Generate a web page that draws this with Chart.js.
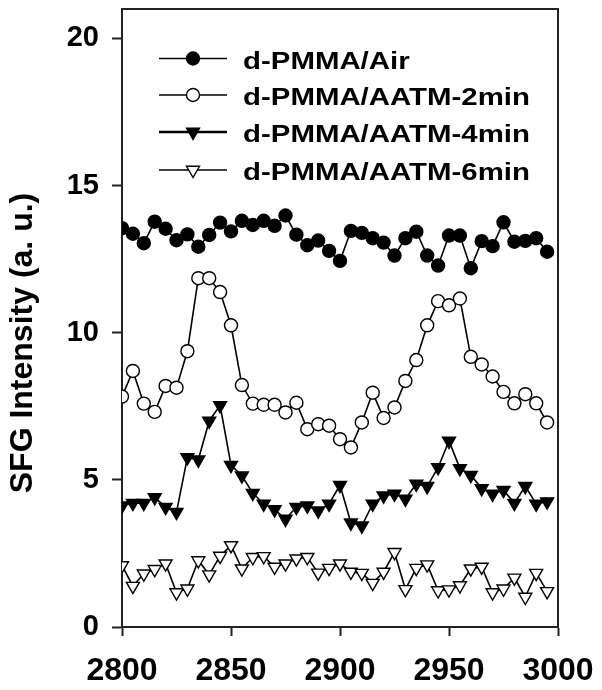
<!DOCTYPE html>
<html>
<head>
<meta charset="utf-8">
<script src="https://cdn.jsdelivr.net/npm/chart.js@4.4.1/dist/chart.umd.min.js"></script>
<style>
  html, body { margin: 0; padding: 0; background: #fff; }
  #wrap { width: 602px; height: 690px; }
</style>
</head>
<body>
<div id="wrap"><canvas id="sfgChart" width="602" height="690"></canvas></div>
<script>
// wavenumber (cm-1)
const wavenumbers = [2800, 2805, 2810, 2815, 2820, 2825, 2830, 2835, 2840, 2845,
                     2850, 2855, 2860, 2865, 2870, 2875, 2880, 2885, 2890, 2895,
                     2900, 2905, 2910, 2915, 2920, 2925, 2930, 2935, 2940, 2945,
                     2950, 2955, 2960, 2965, 2970, 2975, 2980, 2985, 2990, 2995];

// SFG intensity
const pmmaAir = [13.55, 13.36, 13.04, 13.77, 13.53, 13.14, 13.34, 12.92, 13.32, 13.74,
                 13.44, 13.80, 13.66, 13.80, 13.63, 13.98, 13.33, 12.97, 13.13, 12.78,
                 12.44, 13.46, 13.39, 13.21, 13.06, 12.62, 13.21, 13.43, 12.62, 12.28,
                 13.30, 13.30, 12.19, 13.11, 12.94, 13.75, 13.09, 13.12, 13.21, 12.75];
const aatm2min = [7.83, 8.70, 7.59, 7.31, 8.19, 8.13, 9.37, 11.85, 11.85, 11.38,
                  10.25, 8.22, 7.59, 7.55, 7.55, 7.29, 7.62, 6.72, 6.89, 6.84,
                  6.38, 6.10, 6.95, 7.96, 7.10, 7.46, 8.36, 9.07, 10.25, 11.07,
                  10.93, 11.16, 9.18, 8.92, 8.51, 7.99, 7.60, 7.91, 7.60, 6.95];
const aatm4min = [4.12, 4.21, 4.21, 4.40, 4.07, 3.90, 5.76, 5.68, 7.00, 7.53,
                  5.50, 5.14, 4.55, 4.18, 3.99, 3.67, 4.07, 4.12, 3.95, 4.18,
                  4.82, 3.54, 3.44, 4.18, 4.46, 4.52, 4.35, 4.86, 4.78, 5.42,
                  6.32, 5.39, 5.16, 4.71, 4.52, 4.65, 4.21, 4.78, 4.18, 4.26];
const aatm6min = [2.09, 1.39, 1.81, 1.96, 2.15, 1.17, 1.30, 2.26, 1.78, 2.41,
                  2.77, 1.98, 2.37, 2.40, 2.04, 2.15, 2.32, 2.37, 1.84, 2.00,
                  2.15, 1.87, 1.83, 1.49, 1.87, 2.54, 1.28, 2.00, 2.12, 1.24,
                  1.27, 1.41, 1.98, 2.04, 1.17, 1.30, 1.67, 1.02, 1.83, 1.21];

const seriesNames = ['d-PMMA/Air', 'd-PMMA/AATM-2min', 'd-PMMA/AATM-4min', 'd-PMMA/AATM-6min'];
const xTicks = [2800, 2850, 2900, 2950, 3000];
const yTicks = [0, 5, 10, 15, 20];

const FONT = "'Liberation Sans', Arial, sans-serif";
const AXIS = '#222';

const toPoints = arr => arr.map((v, i) => ({ x: wavenumbers[i], y: v }));

// -----------------------------
// series styles
// -----------------------------
const styles = [
    { pointStyle: 'circle',   radius: 6.5, fill: '#000', rotation: 0 },
    { pointStyle: 'circle',   radius: 6.5, fill: '#fff', rotation: 0 },
    { pointStyle: 'triangle', radius: 7.5, fill: '#000', rotation: 180 },
    { pointStyle: 'triangle', radius: 7.5, fill: '#fff', rotation: 180 }
];

const datasets = [pmmaAir, aatm2min, aatm4min, aatm6min].map((arr, i) => ({
    label: seriesNames[i],
    data: toPoints(arr),
    borderColor: '#000',
    borderWidth: 1.6,
    pointStyle: styles[i].pointStyle,
    pointRadius: styles[i].radius,
    pointRotation: styles[i].rotation,
    pointBackgroundColor: styles[i].fill,
    pointBorderColor: '#000',
    pointBorderWidth: 1.4,
    tension: 0
}));

// -----------------------------
// frame + y title + legend
// -----------------------------
const extras = {
    id: 'extras',
    afterDraw(chart) {
        const { ctx, chartArea: a } = chart;
        ctx.save();
        ctx.strokeStyle = AXIS;
        ctx.lineWidth = 2;
        ctx.beginPath();
        ctx.moveTo(a.left, a.top);
        ctx.lineTo(a.right, a.top);
        ctx.lineTo(a.right, a.bottom);
        ctx.stroke();

        // y title
        ctx.fillStyle = '#000';
        ctx.font = 'bold 32px ' + FONT;
        ctx.textAlign = 'center';
        ctx.textBaseline = 'middle';
        ctx.translate(23, 343);
        ctx.rotate(-Math.PI / 2);
        ctx.fillText('SFG Intensity (a. u.)', 0, 0);
        ctx.restore();

        // legend
        ctx.save();
        ctx.font = 'bold 23px ' + FONT;
        const sx = 287 / ctx.measureText(seriesNames[1]).width;
        const rows = [58.5, 95, 132, 170];
        rows.forEach((ry, i) => {
            ctx.strokeStyle = '#000';
            ctx.lineWidth = i === 2 ? 2.4 : 1.6;
            ctx.beginPath();
            ctx.moveTo(159, ry);
            ctx.lineTo(227, ry);
            ctx.stroke();
            ctx.fillStyle = styles[i].fill;
            ctx.lineWidth = 1.4;
            Chart.helpers.drawPoint(ctx, {
                pointStyle: styles[i].pointStyle,
                radius: styles[i].radius,
                rotation: styles[i].rotation,
                borderWidth: 1.4
            }, 193, ry);
            ctx.save();
            ctx.fillStyle = '#000';
            ctx.textAlign = 'left';
            ctx.textBaseline = 'alphabetic';
            ctx.translate(243, ry + 10);
            ctx.scale(sx, 1);
            ctx.fillText(seriesNames[i], 0, 0);
            ctx.restore();
        });
        ctx.restore();
    }
};

new Chart(document.getElementById('sfgChart'), {
    type: 'line',
    data: { datasets },
    options: {
        responsive: false,
        animation: false,
        layout: { padding: { top: 6, right: 44, bottom: 0, left: 0 } },
        plugins: { legend: { display: false }, tooltip: { enabled: false } },
        scales: {
            x: {
                type: 'linear',
                min: 2800,
                max: 3000,
                afterBuildTicks: s => { s.ticks = xTicks.map(v => ({ value: v })); },
                afterFit: s => { s.height = 63; s.paddingLeft = 0; s.paddingRight = 0; },
                border: { display: true, color: AXIS, width: 2 },
                grid: { drawOnChartArea: false, drawTicks: true, tickLength: 9, tickColor: AXIS, tickWidth: 2 },
                ticks: {
                    color: '#000',
                    font: { family: FONT, size: 32, weight: 'bold' },
                    padding: 16,
                    maxRotation: 0,
                    callback: v => String(v)
                }
            },
            y: {
                type: 'linear',
                min: 0,
                max: 21,
                afterBuildTicks: s => { s.ticks = yTicks.map(v => ({ value: v })); },
                afterFit: s => { s.width = 122; s.paddingTop = 0; s.paddingBottom = 0; },
                border: { display: true, color: AXIS, width: 2 },
                grid: { drawOnChartArea: false, drawTicks: true, tickLength: 10, tickColor: AXIS, tickWidth: 2 },
                ticks: { color: '#000', font: { family: FONT, size: 29, weight: 'bold' }, padding: 13 }
            }
        }
    },
    plugins: [extras]
});
</script>
</body>
</html>
